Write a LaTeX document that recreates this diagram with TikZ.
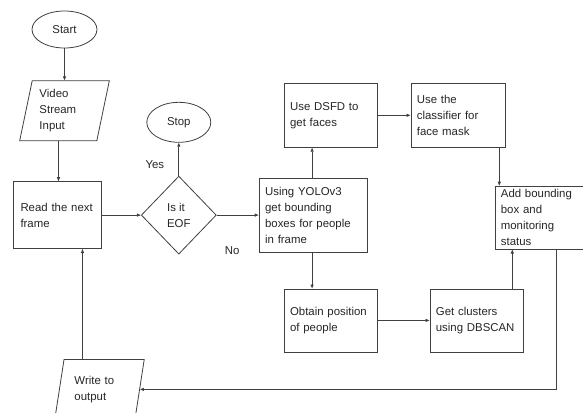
\documentclass[tikz,border=0pt]{standalone}
\usepackage{fontspec}
\setmainfont{Liberation Sans}
\usetikzlibrary{arrows.meta,positioning,shapes.geometric}

\begin{document}
\begin{tikzpicture}[x=1pt, y=-1pt, node distance=30pt,
  every node/.style={font=\fontsize{11.4}{16}\selectfont, text=black!85},
  line/.style={draw=black!75, line width=0.8pt},
  box/.style={line, rectangle, align=left, inner xsep=6pt, inner ysep=2pt},
  term/.style={line, ellipse, minimum width=65pt, minimum height=37pt, inner sep=1pt},
  io/.style={line, trapezium, trapezium left angle=78, trapezium right angle=102,
    trapezium stretches=true, minimum width=90pt, minimum height=60pt,
    text width=50pt, align=left, inner xsep=2pt},
  test/.style={line, diamond, minimum width=75pt, minimum height=78pt, inner sep=1pt, align=left},
  lbl/.style={inner sep=1pt},
  arr/.style={line, -{Triangle[length=4pt,width=3pt]}}]
\useasboundingbox (0,0) rectangle (583,412);
\fill[white] (0,0) rectangle (583,412);
% left column
\node[term] (start) at (64.5,29.5) {Start};
\node[io, below=32pt of start] (video) {Video\\Stream\\Input};
\node[box, text width=74pt, inner xsep=7pt, minimum height=67pt, below=40pt of video, xshift=-7pt] (read) {Read the next\\frame};
\node[io, below=110pt of read, xshift=42pt] (write) {Write to\\output};
% decision
\node[test, right=39pt of read] (eof) {Is it\\EOF};
\node[term, minimum width=64pt, minimum height=40pt, above=33pt of eof] (stop) {Stop};
\node[lbl] (yes) at ([xshift=-24pt, yshift=11pt]eof.north) {Yes};
\node[lbl] (no) at ([xshift=15.5pt, yshift=-36pt]eof.east) {No};
% processing
\node[box, text width=96pt, minimum height=74pt, right=42pt of eof] (yolo) {Using YOLOv3\\get bounding\\boxes for people\\in frame};
\node[box, text width=81pt, minimum height=64pt, above=30pt of yolo, xshift=17.5pt] (dsfd) {Use DSFD to\\get faces};
\node[box, text width=82pt, inner xsep=6pt, minimum height=64pt, right=33pt of dsfd] (clf) {Use the\\classifier for\\face mask};
\node[box, text width=81pt, minimum height=63pt, below=36pt of yolo, xshift=17.5pt] (pos) {Obtain position\\of people};
\node[box, text width=81pt, minimum height=63pt, right=52pt of pos] (dbscan) {Get clusters\\using DBSCAN};
\node[box, text width=78pt, minimum height=63pt, right=127pt of yolo, yshift=-2.5pt] (add) {Add bounding\\box and\\monitoring\\status};
% connectors
\draw[arr] (start) -- (start |- video.north);
\draw[arr] ([xshift=1pt]read.north |- video.south) -- ([xshift=1pt]read.north);
\draw[arr] (read) -- (eof);
\draw[arr] (eof) -- (stop);
\draw[arr] (eof) -- (yolo);
\draw[arr] ([xshift=-1pt]yolo.north) -- ([xshift=-1pt]yolo.north |- dsfd.south);
\draw[arr] ([xshift=-1pt]yolo.south) -- ([xshift=-1pt]yolo.south |- pos.north);
\draw[arr] (dsfd) -- (clf);
\draw[arr] ([xshift=-6pt]clf.south east) -- ([xshift=-6pt]clf.south east |- add.north);
\draw[arr] (pos) -- (dbscan);
\draw[arr] ([xshift=-11pt]dbscan.north east) -- ([xshift=-11pt]dbscan.north east |- add.south);
\draw[arr] ([xshift=16pt]add.south) |- (write.east);
\draw[arr] ([xshift=25pt]read.south |- write.north) -- ([xshift=25pt]read.south);
\end{tikzpicture}
\end{document}
